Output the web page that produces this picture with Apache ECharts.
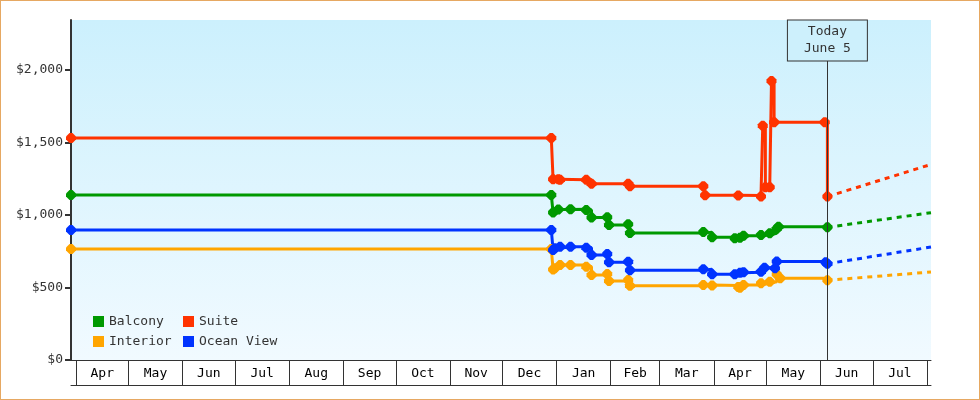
<!DOCTYPE html>
<html>
<head>
<meta charset="utf-8">
<script src="https://cdn.jsdelivr.net/npm/echarts@6/dist/echarts.min.js"></script>
<style>
    html, body { margin: 0; padding: 0; background: #fff; }
    #chart { position: absolute; left: 0; top: 0; width: 980px; height: 400px; }
    #frame { position: absolute; left: 0; top: 0; width: 980px; height: 400px; box-sizing: border-box; border: 1px solid #e6a862; pointer-events: none; }
</style>
</head>
<body>
<div id="chart"></div>
<div id="frame"></div>
<script>
// axis ranges and labels
var axisStart = '2024-03-29 03';
var axisEnd = '2025-08-03 07';
var today = '2025-06-05';
var monthStarts = ['2024-04-01', '2024-05-01', '2024-06-01', '2024-07-01', '2024-08-01', '2024-09-01',
    '2024-10-01', '2024-11-01', '2024-12-01', '2025-01-01', '2025-02-01', '2025-03-01',
    '2025-04-01', '2025-05-01', '2025-06-01', '2025-07-01', '2025-08-01'];
var monthLabels = ['Apr', 'May', 'Jun', 'Jul', 'Aug', 'Sep', 'Oct', 'Nov', 'Dec',
    'Jan', 'Feb', 'Mar', 'Apr', 'May', 'Jun', 'Jul'];
var yTicks = [0, 500, 1000, 1500, 2000];
var yMax = 2345;

// price history (date, price)
var balcony = [
    ['2024-03-29 03', 1138], ['2024-12-29', 1138], ['2024-12-30', 1018], ['2025-01-02', 1038],
    ['2025-01-09', 1039], ['2025-01-18', 1035], ['2025-01-21', 983], ['2025-01-30', 985],
    ['2025-01-31', 931], ['2025-02-11', 936], ['2025-02-12', 876], ['2025-03-26', 882],
    ['2025-03-31', 846], ['2025-04-13', 840], ['2025-04-16', 843], ['2025-04-18', 857],
    ['2025-04-28', 862], ['2025-05-03', 874], ['2025-05-07', 905], ['2025-05-08', 919],
    ['2025-06-05', 915]
];
var suite = [
    ['2024-03-29 03', 1531], ['2024-12-29', 1531], ['2024-12-30', 1246], ['2025-01-02', 1246],
    ['2025-01-03', 1243], ['2025-01-18', 1243], ['2025-01-21', 1216], ['2025-02-11', 1216],
    ['2025-02-12', 1198], ['2025-03-26', 1198], ['2025-03-27', 1136], ['2025-04-15', 1134],
    ['2025-04-28', 1127], ['2025-04-29', 1616], ['2025-04-30 12', 1191], ['2025-05-03', 1191],
    ['2025-05-04', 1924], ['2025-05-05 12', 1639], ['2025-06-03 12', 1639], ['2025-06-05', 1127]
];
var interior = [
    ['2024-03-29 03', 766], ['2024-12-29', 766], ['2024-12-30', 625], ['2024-12-31', 632],
    ['2025-01-03', 655], ['2025-01-09', 655], ['2025-01-18', 643], ['2025-01-21', 586],
    ['2025-01-30', 593], ['2025-01-31', 545], ['2025-02-11', 552], ['2025-02-12', 512],
    ['2025-03-26', 517], ['2025-03-31', 514], ['2025-04-15', 503], ['2025-04-16', 499],
    ['2025-04-18', 517], ['2025-04-28', 529], ['2025-05-03', 540], ['2025-05-07', 591],
    ['2025-05-09', 563], ['2025-06-05', 550]
];
var oceanView = [
    ['2024-03-29 03', 897], ['2024-12-29', 897], ['2024-12-30', 759], ['2024-12-31', 770],
    ['2025-01-03', 781], ['2025-01-09', 781], ['2025-01-18', 774], ['2025-01-21', 724],
    ['2025-01-30', 731], ['2025-01-31', 674], ['2025-02-11', 678], ['2025-02-12', 619],
    ['2025-03-26', 626], ['2025-03-31', 591], ['2025-04-13', 591], ['2025-04-16', 602],
    ['2025-04-18', 605], ['2025-04-28', 609], ['2025-04-30', 637], ['2025-05-06', 632],
    ['2025-05-07', 680], ['2025-06-04', 674], ['2025-06-05', 664]
];

// forecast (dotted)
var balconyForecast = [['2025-06-05', 915], ['2025-08-03 07', 1016]];
var suiteForecast = [['2025-06-05', 1127], ['2025-08-03 07', 1349]];
var interiorForecast = [['2025-06-05', 550], ['2025-08-03 07', 607]];
var oceanViewForecast = [['2025-06-05', 664], ['2025-08-03 07', 779]];

var colors = {
    'Balcony': '#009900',
    'Suite': '#ff3300',
    'Interior': '#ffa500',
    'Ocean View': '#0033ff'
};

var FONT = 'DejaVu Sans Mono';
var TEXT = '#333';
var todayTop = 2066;   // where the today line meets its label box
// blunt diamond marker
var MARK = 'path://M3.5,0 L6.5,0 L10,3.5 L10,6.5 L6.5,10 L3.5,10 L0,6.5 L0,3.5 Z';

// date string -> UTC timestamp
function t(s) {
    var p = s.split(/[- ]/);
    return Date.UTC(+p[0], +p[1] - 1, +p[2], +(p[3] || 0));
}
function pts(arr) {
    return arr.map(function (d) { return [t(d[0]), d[1]]; });
}
function money(v) {
    return '$' + String(v).replace(/\B(?=(\d{3})+(?!\d))/g, ',');
}

var tickValues = monthStarts.map(t);
var labelValues = [];
for (var i = 0; i < monthLabels.length; i++) {
    labelValues.push((tickValues[i] + tickValues[i + 1]) / 2);
}

function priceSeries(name, data) {
    return {
        name: name,
        type: 'line',
        step: 'end',
        data: pts(data),
        z: 3,
        symbol: MARK,
        symbolSize: 10,
        showAllSymbol: true,
        itemStyle: { color: colors[name] },
        lineStyle: { color: colors[name], width: 3 }
    };
}
function forecastSeries(name, data) {
    return {
        name: name + ' forecast',
        type: 'line',
        data: pts(data),
        z: 2,
        symbol: 'none',
        itemStyle: { color: colors[name] },
        lineStyle: { color: colors[name], width: 3, type: [5, 5] }
    };
}

var chart = echarts.init(document.getElementById('chart'));

var legendBase = {
    orient: 'vertical',
    top: 315,
    padding: 0,
    itemWidth: 11,
    itemHeight: 11,
    itemGap: 7,
    icon: 'rect',
    textStyle: { fontFamily: FONT, fontSize: 13, color: TEXT },
    selectedMode: false
};

var option = {
    animation: false,
    backgroundColor: '#fff',
    grid: {
        left: 71, right: 49, top: 20, bottom: 40,
        show: true,
        borderWidth: 0,
        backgroundColor: new echarts.graphic.LinearGradient(0, 0, 0, 1, [
            { offset: 0, color: '#ccf0fd' },
            { offset: 1, color: '#f1faff' }
        ])
    },
    legend: [
        Object.assign({}, legendBase, { left: 93, data: ['Balcony', 'Interior'] }),
        Object.assign({}, legendBase, { left: 183, data: ['Suite', 'Ocean View'] })
    ],
    xAxis: [{
        type: 'value',
        min: t(axisStart),
        max: t(axisEnd),
        axisLine: { show: true, lineStyle: { color: TEXT, width: 1 } },
        axisTick: {
            show: true,
            length: 25,
            customValues: tickValues,
            lineStyle: { color: TEXT, width: 1 }
        },
        axisLabel: {
            customValues: labelValues,
            margin: 7,
            fontFamily: FONT,
            fontSize: 13,
            color: '#000',
            formatter: function (v) {
                var k = labelValues.indexOf(v);
                return k >= 0 ? monthLabels[k] : '';
            }
        },
        splitLine: { show: false }
    }, {
        type: 'value',
        position: 'bottom',
        offset: 25,
        min: t(axisStart),
        max: t(axisEnd),
        axisLine: { show: true, lineStyle: { color: TEXT, width: 1 } },
        axisTick: { show: false },
        axisLabel: { show: false },
        splitLine: { show: false }
    }],
    yAxis: {
        type: 'value',
        min: 0,
        max: yMax,
        axisLine: { show: true, lineStyle: { color: TEXT, width: 2 } },
        axisTick: {
            show: true,
            length: 6,
            customValues: yTicks,
            lineStyle: { color: TEXT, width: 2 }
        },
        axisLabel: {
            customValues: yTicks,
            margin: 8,
            fontFamily: FONT,
            fontSize: 13,
            color: TEXT,
            formatter: money
        },
        splitLine: { show: false }
    },
    series: [
        {
            name: 'today',
            type: 'line',
            data: [],
            z: 1,
            markLine: {
                silent: true,
                symbol: 'none',
                animation: false,
                lineStyle: { color: TEXT, width: 1, type: 'solid' },
                label: {
                    show: true,
                    position: 'end',
                    distance: 0,
                    formatter: 'Today\nJune 5',
                    fontFamily: FONT,
                    fontSize: 13,
                    lineHeight: 17,
                    color: TEXT,
                    backgroundColor: '#cdf0fc',
                    borderColor: TEXT,
                    borderWidth: 1,
                    padding: [3, 16, 3, 16]
                },
                data: [[
                    { coord: [t(today), 0] },
                    { coord: [t(today), todayTop] }
                ]]
            }
        },
        forecastSeries('Balcony', balconyForecast),
        forecastSeries('Suite', suiteForecast),
        forecastSeries('Interior', interiorForecast),
        forecastSeries('Ocean View', oceanViewForecast),
        priceSeries('Balcony', balcony),
        priceSeries('Suite', suite),
        priceSeries('Interior', interior),
        priceSeries('Ocean View', oceanView)
    ]
};

chart.setOption(option);
</script>
</body>
</html>
